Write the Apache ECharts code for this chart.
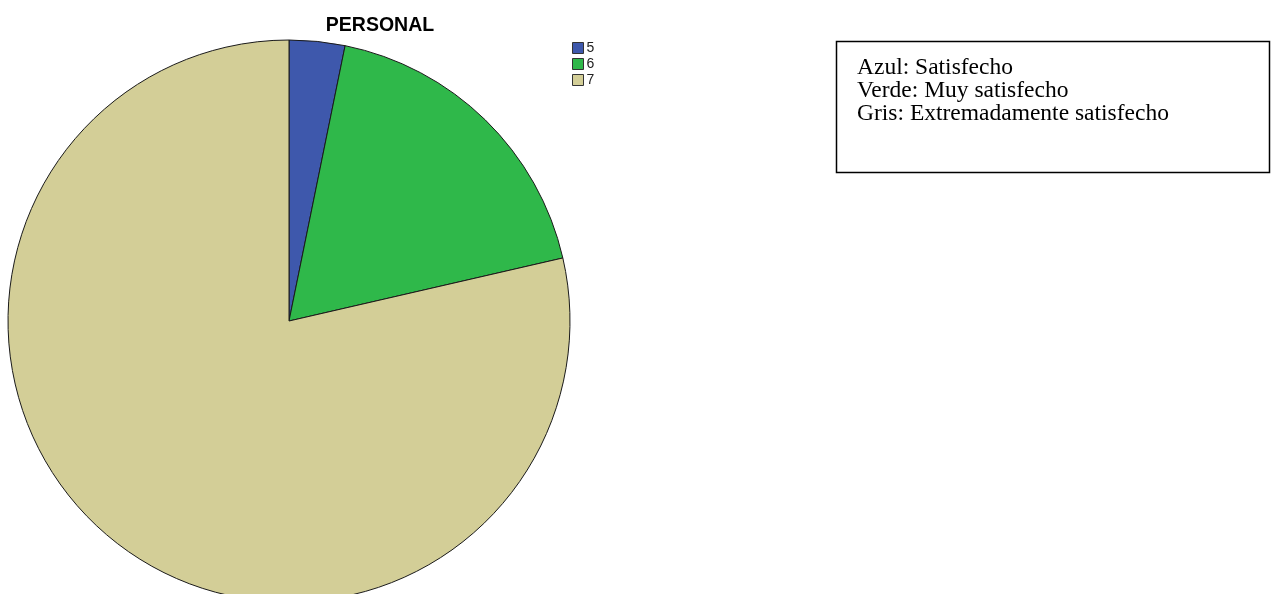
<!DOCTYPE html>
<html>
<head>
<meta charset="utf-8">
<script src="https://cdn.jsdelivr.net/npm/echarts@6/dist/echarts.min.js"></script>
<style>
  html, body { margin: 0; padding: 0; background: #fff; }
  #chart { width: 1271px; height: 594px; }
</style>
</head>
<body>
<div id="chart"></div>
<script>
// Satisfaction categories (scale values) and their shares (%)
const categories = ['5', '6', '7'];
const shares = [3.2, 18.2, 78.6];
const sliceColors = ['#3e58ac', '#2fb84a', '#d3ce97'];
const noteLines = ['Azul: Satisfecho', 'Verde: Muy satisfecho', 'Gris: Extremadamente satisfecho'];

const chart = echarts.init(document.getElementById('chart'));

chart.setOption({
  backgroundColor: '#ffffff',
  animation: false,
  title: {
    text: 'PERSONAL',
    left: 380,
    textAlign: 'center',
    top: 16,
    padding: 0,
    textStyle: { fontFamily: 'Liberation Sans, Arial', fontWeight: 'bold', fontSize: 19.5, color: '#000' }
  },
  legend: {
    orient: 'vertical',
    left: 567,
    top: 36,
    itemWidth: 11,
    itemHeight: 11,
    itemGap: 2,
    icon: 'rect',
    data: categories,
    itemStyle: { borderColor: '#333', borderWidth: 1 },
    textStyle: { fontFamily: 'Liberation Sans, Arial', fontSize: 14, color: '#222', padding: [0, 0, 0, -2] }
  },
  series: [{
    type: 'pie',
    center: [289, 321],
    radius: 281,
    startAngle: 90,
    clockwise: true,
    label: { show: false },
    labelLine: { show: false },
    emphasis: { disabled: true },
    itemStyle: { borderColor: '#1a1a1a', borderWidth: 1 },
    data: categories.map((c, i) => ({
      name: c,
      value: shares[i],
      itemStyle: { color: sliceColors[i] }
    }))
  }],
  graphic: [
    {
      type: 'rect',
      shape: { x: 836.5, y: 41.5, width: 433, height: 131 },
      style: { fill: '#fff', stroke: '#000', lineWidth: 1.5 }
    },
    {
      type: 'text',
      x: 857,
      y: 56,
      style: {
        text: noteLines.join('\n'),
        fontFamily: 'Liberation Serif, Times New Roman',
        fontSize: 23.5,
        lineHeight: 23,
        fill: '#000'
      }
    }
  ]
});
</script>
</body>
</html>
